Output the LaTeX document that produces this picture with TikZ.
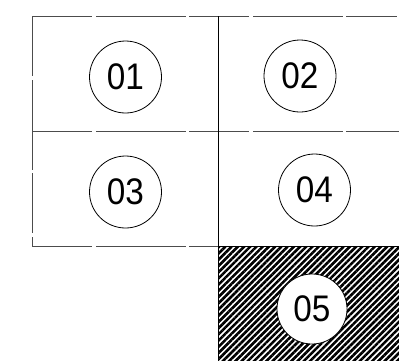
\documentclass[tikz,border=0pt]{standalone}
\usepackage{fontspec}
\setmainfont{Liberation Sans}
\newfontfamily\numfont[FakeStretch=0.9]{Liberation Sans}
\usetikzlibrary{patterns.meta}
\begin{document}
\begin{tikzpicture}[x=1pt,y=-1pt,
  thinline/.style={draw=black!70,line width=0.7pt,dash pattern=on 60pt off 4pt on 90pt off 3pt},
  mainline/.style={draw=black,line width=0.9pt},
  numcirc/.style={circle,draw=black,line width=0.8pt,fill=white,minimum size=72pt,inner sep=0pt,
    font=\numfont\fontsize{37}{37}\selectfont},
  hatch/.style={pattern={Lines[angle=45,distance=4.4pt,line width=2.6pt]},pattern color=black}]
\useasboundingbox (0,0) rectangle (399,360);
% regions
\coordinate (tl) at (32,16);
\coordinate (tm) at (218,16);
\coordinate (tr) at (397,16);
\coordinate (ml) at (32,131);
\coordinate (mm) at (218,131);
\coordinate (mr) at (399,131);
\coordinate (bl) at (32,246);
\coordinate (bm) at (218,246);
\coordinate (br) at (399,246);
\coordinate (em) at (218,360);
\coordinate (er) at (399,360);
% hatched box 05
\path[hatch] (bm) rectangle (er);
% grid lines
\draw[thinline] (tl) -- (tr);
\draw[thinline] (ml) -- (mr);
\draw[thinline] (bl) -- (bm);
\draw[thinline] (tl) -- (bl);
\draw[mainline] (tm) -- (em);
\draw[mainline] (bm) -- (br);
% numbered circles
\node[numcirc] (c1) at (125.5,77) {01};
\node[numcirc] (c2) at (300,76) {02};
\node[numcirc] (c3) at (125.5,192) {03};
\node[numcirc] (c4) at (314.5,190) {04};
\node[numcirc,minimum size=70pt] (c5) at (312,309) {05};
\end{tikzpicture}
\end{document}
